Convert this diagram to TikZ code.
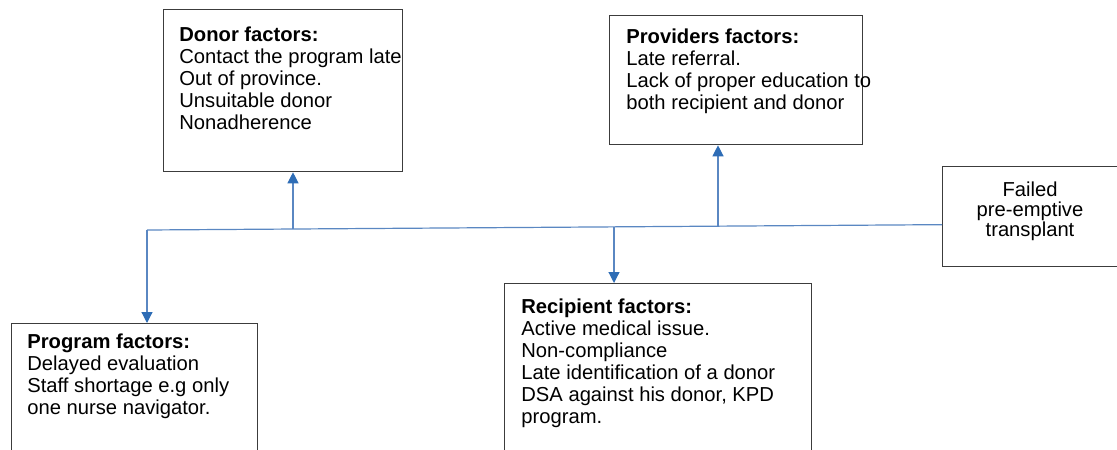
\documentclass[tikz,border=0pt]{standalone}
\usepackage{fontspec}
\setmainfont{Liberation Sans}
\usepackage{tikz}
\usetikzlibrary{arrows.meta,positioning,calc}

\definecolor{wireblue}{HTML}{5A87C2}
\definecolor{tipblue}{HTML}{2E6DB6}
\definecolor{boxgray}{HTML}{3C3C3C}

\tikzset{
  factorbox/.style={draw=boxgray, line width=0.65pt, anchor=north west, inner sep=0pt},
  factortext/.style={anchor=north west, inner sep=0pt, align=left, font=\fontsize{10.1}{11}\selectfont},
  wire/.style={draw=wireblue, line width=0.6pt},
  wirearrow/.style={wire, -{Triangle[width=5.5pt,length=5.5pt,color=tipblue]}}
}

\begin{document}
\begin{tikzpicture}[x=0.5pt, y=-0.5pt]
      \useasboundingbox (0,0) rectangle (1117,449);
      % boxes
      \node [factorbox, minimum width=119.5pt, minimum height=81pt]   (donor)     at (163,9)   {};
      \node [factorbox, minimum width=126.5pt, minimum height=64.5pt] (providers) at (609,15)  {};
      \node [factorbox, minimum width=90pt,    minimum height=50pt]   (failed)    at (942,166) {};
      \node [factorbox, minimum width=123pt,   minimum height=70pt]   (program)   at (11,323)  {};
      \node [factorbox, minimum width=153.5pt, minimum height=90pt]   (recipient) at (504,283) {};
      % texts
      \node [factortext] (donortext) at ([shift={(8pt,-8.5pt)}]donor.north west)
        {\textbf{Donor factors:}\\Contact the program late\\Out of province.\\Unsuitable donor\\Nonadherence};
      \node [factortext] (providerstext) at ([shift={(8.5pt,-6.5pt)}]providers.north west)
        {\textbf{Providers factors:}\\Late referral.\\Lack of proper education to\\both recipient and donor};
      \node [factortext] (programtext) at ([shift={(8pt,-5pt)}]program.north west)
        {\textbf{Program factors:}\\Delayed evaluation\\Staff shortage e.g only\\one nurse navigator.};
      \node [factortext] (recipienttext) at ([shift={(8.5pt,-7.5pt)}]recipient.north west)
        {\textbf{Recipient factors:}\\Active medical issue.\\Non-compliance\\Late identification of a donor\\DSA against his donor, KPD\\program.};
      \node [factortext, anchor=north, align=center, font=\fontsize{10.1}{10.2}\selectfont] (failedtext) at (1030,181)
        {Failed\\pre-emptive\\transplant};
      % spine
      \coordinate (spine) at (147,230);
      \coordinate (hub) at ([yshift=-4pt]failed.west);
      \draw [wire] (hub) -- (spine);
      \draw [wirearrow] (spine) -- (spine |- program.north);
      \foreach \px/\target/\side in {293/donor/south, 718/providers/south, 614/recipient/north} {
        \coordinate (tap-\target) at ($(spine)!{(\px-147)/795}!(hub)$);
        \draw [wirearrow] (tap-\target) -- (tap-\target |- \target.\side);
      }
    \end{tikzpicture}
\end{document}
